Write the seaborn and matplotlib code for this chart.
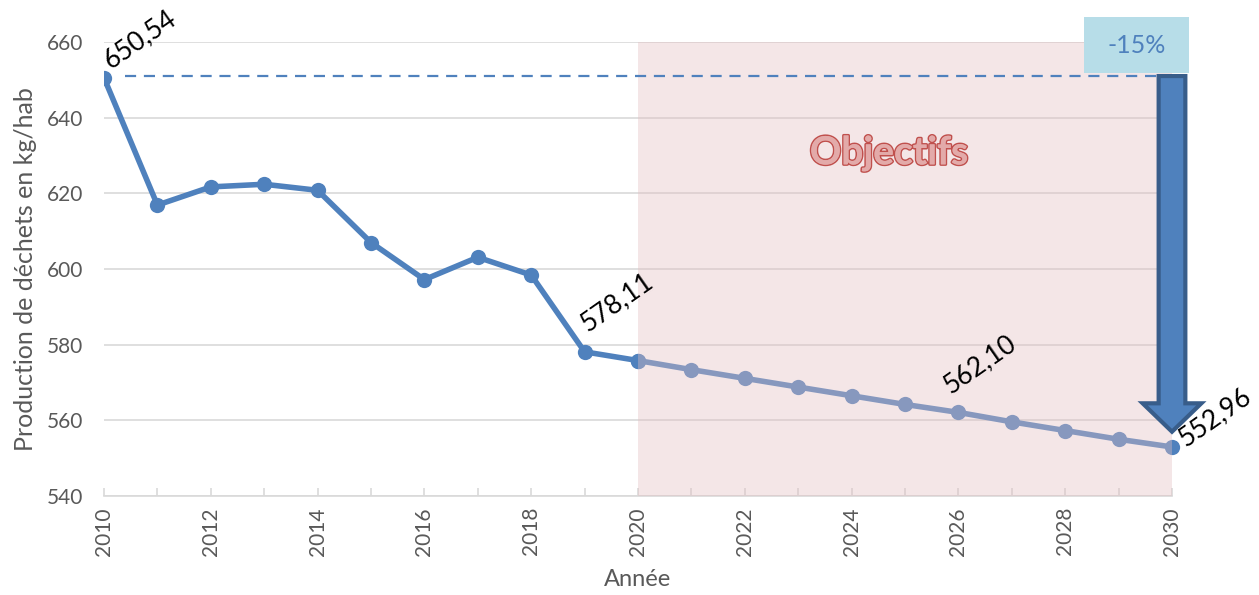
import numpy as np
import pandas as pd
import matplotlib
matplotlib.use("Agg")
import matplotlib.pyplot as plt
import matplotlib.patheffects as pe
from matplotlib.patches import FancyArrow, Rectangle
import seaborn as sns

# ---- data ----
years_hist = [2010, 2011, 2012, 2013, 2014, 2015, 2016, 2017, 2018, 2019, 2020]
values_hist = [650.54, 616.9, 621.7, 622.4, 620.8, 607.0, 597.2, 603.1, 598.4, 578.11, 575.8]
years_obj = [2020, 2021, 2022, 2023, 2024, 2025, 2026, 2027, 2028, 2029, 2030]
values_obj = [575.8, 573.4, 571.1, 568.8, 566.5, 564.2, 562.10, 559.6, 557.3, 555.0, 552.96]
labels = {2010: "650,54", 2019: "578,11", 2026: "562,10", 2030: "552,96"}
reference_value = 651.0
reduction_label = "-15%"
y_ticks = [540, 560, 580, 600, 620, 640, 660]
x_ticks = list(range(2010, 2031, 2))

sns.set_theme(style="white")
plt.rcParams['font.family'] = ['Lato', 'DejaVu Sans']

fig = plt.figure(figsize=(12.59, 5.95), dpi=100)
ax = fig.add_axes([104/1259, 1-496/595, (1172-104)/1259, (496-42)/595])

blue = "#4f81bd"
df_hist = pd.DataFrame({"Année": years_hist, "val": values_hist})
df_obj = pd.DataFrame({"Année": years_obj, "val": values_obj})
sns.lineplot(data=df_hist, x="Année", y="val", ax=ax, color=blue, lw=4,
             marker="o", markersize=11, markeredgewidth=0, zorder=3)
sns.lineplot(data=df_obj, x="Année", y="val", ax=ax, color=blue, lw=4,
             marker="o", markersize=11, markeredgewidth=0, zorder=3, clip_on=False)

# objective band (translucent, over the line)
ax.axvspan(2020, 2030, color="#e3bfc2", alpha=0.38, lw=0, zorder=4)

ax.set_xlim(2010, 2030)
ax.set_ylim(540, 660)
ax.set_yticks(y_ticks)
ax.set_xticks(x_ticks)
ax.set_xticks(range(2010, 2031), minor=True)
ax.grid(axis="y", color="#d9d9d9", lw=1.2, zorder=0)
ax.set_axisbelow(True)
for s in ["top", "right", "left"]:
    ax.spines[s].set_visible(False)
ax.spines["bottom"].set_color("#d9d9d9")
ax.spines["bottom"].set_linewidth(1.2)
ax.tick_params(axis="x", which="both", direction="in", length=6, color="#d9d9d9",
               width=1.2, bottom=True, labelrotation=90, labelsize=15,
               labelcolor="#595959", pad=8)
ax.tick_params(axis="y", length=0, labelsize=15, labelcolor="#595959", pad=15)
ax.set_xlabel("Année", fontsize=17, color="#595959", labelpad=10)
ax.set_ylabel("Production de déchets en kg/hab", fontsize=18, color="#595959", labelpad=7)

# dashed reference line
ax.plot([2010.4, 2029.8], [reference_value, reference_value], ls=(0, (5, 3.5)),
        color=blue, lw=1.6, zorder=5)

# data labels
all_vals = dict(zip(years_hist + years_obj, values_hist + values_obj))
offsets = {2010: (0.12, 2.2), 2019: (0.05, 5.3), 2026: (-0.15, 4.8), 2030: (0.25, 0.0)}
for yr, txt in labels.items():
    dx, dy = offsets[yr]
    ax.text(yr + dx, all_vals[yr] + dy, txt, rotation=35, fontsize=19,
            color="black", ha="left", va="baseline", rotation_mode="anchor",
            zorder=7, clip_on=False)

# Objectifs text
ax.text(2024.7, 630.7, "Objectifs", fontsize=28, fontweight="bold",
        color="#e3aaa9", ha="center", va="center", zorder=6,
        path_effects=[pe.withStroke(linewidth=2.2, foreground="#c0504d"),
                      pe.Normal()])

# big arrow
arrow = FancyArrow(2030, reference_value, 0, -(reference_value - 557.0),
                   width=0.5, head_width=1.1, head_length=7.5,
                   length_includes_head=True, facecolor=blue,
                   edgecolor="#385d8a", lw=3, zorder=8, clip_on=False)
ax.add_patch(arrow)

# -15% box
box = Rectangle((2028.35, 651.8), 1.97, 14.8, facecolor="#b7dde8",
                edgecolor="none", zorder=7, clip_on=False)
ax.add_patch(box)
ax.text(2029.33, 659.2, reduction_label, fontsize=18, color=blue, ha="center",
        va="center", zorder=9, clip_on=False)

fig.savefig("out.png", dpi=100)
